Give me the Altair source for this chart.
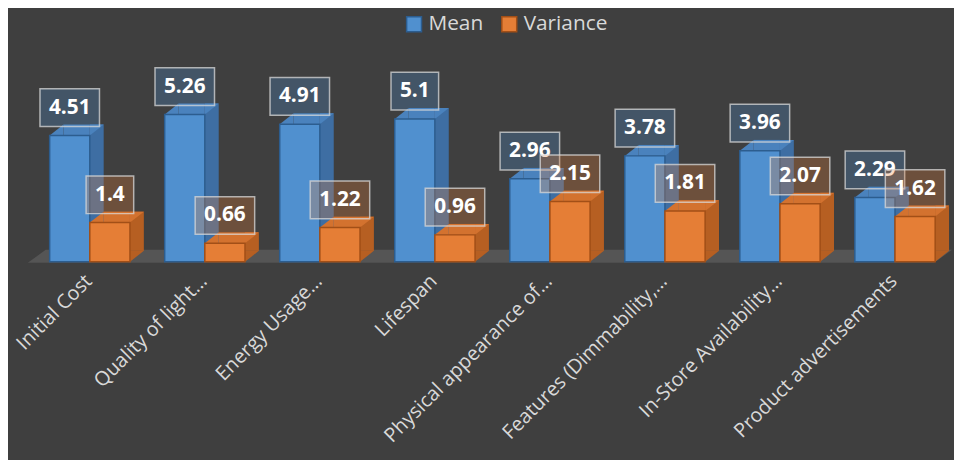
import altair as alt
import pandas as pd

categories = [
    "Initial Cost",
    "Quality of light…",
    "Energy Usage…",
    "Lifespan",
    "Physical appearance of…",
    "Features (Dimmability,…",
    "In-Store Availability…",
    "Product advertisements",
]
series_names = ["Mean", "Variance"]
mean_values = [4.51, 5.26, 4.91, 5.1, 2.96, 3.78, 3.96, 2.29]
variance_values = [1.4, 0.66, 1.22, 0.96, 2.15, 1.81, 2.07, 1.62]
mean_labels = ["4.51", "5.26", "4.91", "5.1", "2.96", "3.78", "3.96", "2.29"]
variance_labels = ["1.4", "0.66", "1.22", "0.96", "2.15", "1.81", "2.07", "1.62"]

rows = []
for i, c in enumerate(categories):
    rows.append(dict(cat=c, series="Mean", value=mean_values[i], label=mean_labels[i]))
    rows.append(dict(cat=c, series="Variance", value=variance_values[i], label=variance_labels[i]))
df = pd.DataFrame(rows)

# layout constants
W, H = 928, 226
STEP = 116.0
P_IN = 35.0 / STEP
P_OUT = P_IN / 2
ALIGN = 30.0 / 35.0
BW = STEP * (1 - P_IN) / 2  # width of one bar
DX, DY = 14, 11             # 3-D depth

COLORS = {
    "Mean": dict(front="#5090cf", side="#3e6ea3", top="#4a82bd", dark="#2c5d8f"),
    "Variance": dict(front="#e57e36", side="#b65f22", top="#d3722f", dark="#a24f17"),
}
SIGN = {"Mean": -1, "Variance": 1}
BG = "#3f3f3f"
TXT = "#d9d9d9"
FONT = "Open Sans"

YSCALE = alt.Scale(domain=[0, 8], nice=False, zero=True)
X = alt.X(
    "cat:N",
    sort=categories,
    scale=alt.Scale(paddingInner=P_IN, paddingOuter=P_OUT, align=ALIGN),
    axis=alt.Axis(
        title=None, labelAngle=-45, labelFontSize=20, labelColor=TXT, labelFont=FONT,
        domain=False, ticks=False, labelPadding=9, labelOffset=-8, labelLimit=400,
        labelBaseline="top", labelAlign="right", grid=False,
    ),
)
Y = alt.Y("value:Q", scale=YSCALE, axis=None)
Y0 = alt.Y(datum=0, scale=YSCALE, axis=None)


def sub(series):
    return alt.Chart(df).transform_filter(f"datum.series == '{series}'").encode(x=X)


def tri(series, color, dx, shape, y):
    return sub(series).mark_point(
        filled=True, opacity=1, size=4, strokeWidth=0, xOffset=dx, shape=shape, color=color,
    ).encode(y=y)


# floor
floor = alt.Chart(pd.DataFrame({"f": [0]})).mark_point(
    filled=True, opacity=1, size=4, strokeWidth=0, color="#555555",
    shape="M0,0L18,-13L932,-13L914,0Z",
).encode(x=alt.value(8), y=alt.value(H + 1))

sides, bottoms, tops, top_tris, fronts = [], [], [], [], []
for s in series_names:
    c = SIGN[s] * BW / 2
    col = COLORS[s]
    sides.append(
        sub(s).mark_bar(width=DX, xOffset=c + BW / 2 + DX / 2, yOffset=-DY, y2Offset=-DY,
                        color=col["side"]).encode(y=Y, y2=alt.datum(0))
    )
    bottoms.append(tri(s, col["side"], c + BW / 2, f"M0,0L0,-{DY}L{DX},-{DY}Z", Y0))
    tops.append(
        sub(s).mark_bar(width=BW - DX, xOffset=c + DX / 2, yOffset=-DY, y2Offset=0,
                        color=col["top"]).encode(y=Y, y2="value:Q")
    )
    top_tris.append(tri(s, col["top"], c - BW / 2, f"M0,0L{DX},-{DY}L{DX},0Z", Y))
    top_tris.append(tri(s, col["top"], c + BW / 2, f"M0,0L0,-{DY}L{DX},-{DY}Z", Y))

LEG = alt.Legend(
    orient="none", legendX=387, legendY=-24, direction="horizontal", title=None,
    symbolType="square", symbolSize=225, symbolStrokeWidth=1.5,
    labelFontSize=21, labelFont=FONT, labelColor=TXT, columnPadding=15, labelOffset=4,
)
FILL = alt.Fill("series:N", scale=alt.Scale(domain=series_names,
                range=[COLORS[s]["front"] for s in series_names]), legend=LEG)
STROKE = alt.Stroke("series:N", scale=alt.Scale(domain=series_names,
                    range=[COLORS[s]["dark"] for s in series_names]), legend=LEG)
for s in series_names:
    fronts.append(
        sub(s).mark_bar(width=BW, xOffset=SIGN[s] * BW / 2, strokeWidth=1.5).encode(
            y=Y, fill=FILL, stroke=STROKE)
    )

labels = []
for s in series_names:
    c = SIGN[s] * BW / 2
    for n, bw in ((3, 48), (4, 60)):
        labels.append(
            alt.Chart(df).transform_filter(
                f"datum.series == '{s}' && length(datum.label) == {n}"
            ).mark_bar(
                width=bw, xOffset=c, yOffset=-47, y2Offset=-9, fill=COLORS[s]["front"],
                fillOpacity=0.28, stroke="#d8d8d8", strokeOpacity=0.75, strokeWidth=1.5,
            ).encode(x=X, y=Y, y2="value:Q")
        )
    labels.append(
        sub(s).mark_text(
            xOffset=c, yOffset=-28, fontSize=21, fontWeight="bold", font=FONT,
            color="white", baseline="middle",
        ).encode(y=Y, text="label:N")
    )

chart = alt.layer(
    floor, *sides, *bottoms, *tops, *top_tris, *fronts, *labels,
).properties(
    width=W, height=H,
    autosize=alt.AutoSizeParams(type="none"),
    padding={"left": 12, "top": 28, "right": 14, "bottom": 198},
    background=BG,
).configure_view(stroke=None)

chart.save("out.html", embed_options={"renderer": "svg", "actions": False})
